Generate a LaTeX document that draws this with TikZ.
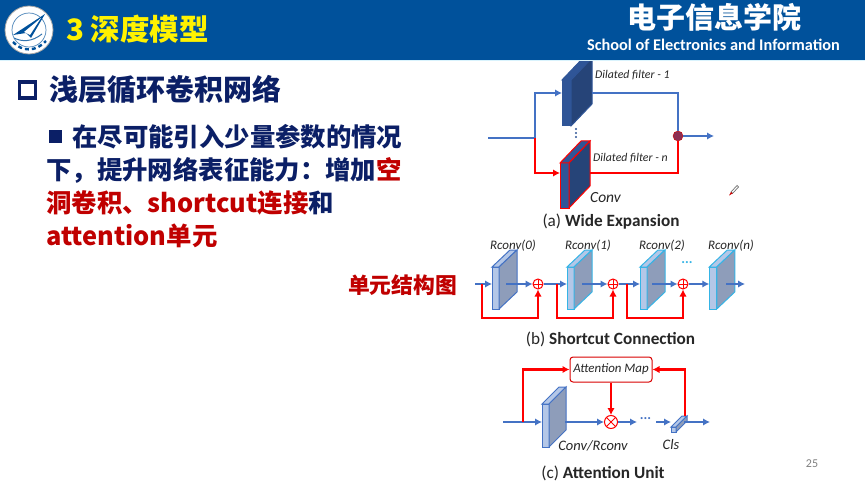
\documentclass[tikz,border=0pt]{standalone}
\usepackage{fontspec}
\usepackage{xcolor}
\usetikzlibrary{arrows.meta, positioning, calc}
\setmainfont{Carlito}
\newfontfamily\cjk{Noto Sans CJK SC}
\definecolor{headblue}{HTML}{00519B}
\definecolor{navy}{HTML}{0B1F66}
\definecolor{lineblue}{HTML}{4472C4}
\definecolor{darkfront}{HTML}{2F5597}
\definecolor{darkside}{HTML}{264478}
\definecolor{palefront}{HTML}{B4C7E7}
\definecolor{paleside}{HTML}{8E9DBA}
\definecolor{skyedge}{HTML}{35B4E6}
\definecolor{txtred}{HTML}{C00000}
\tikzset{
    blueline/.style={draw=lineblue, line width=2.2pt},
    redline/.style={draw=red, line width=2.2pt},
    bluearrow/.style={blueline, -{Latex[length=7pt, width=7.5pt]}},
    redarrow/.style={redline, -{Latex[length=7pt, width=7.5pt]}},
    smalllabel/.style={inner sep=0pt, font=\itshape\fontsize{11.8}{14}\selectfont, text=black!85},
    caption/.style={inner sep=0pt, font=\fontsize{17.2}{19}\selectfont, text=black!85},
    bodytext/.style={inner sep=0pt, anchor=west, text=navy, font=\cjk\bfseries\fontsize{25.4}{30}\selectfont},
    sumnode/.style={circle, draw=red, fill=white, line width=1pt, inner sep=0pt, minimum size=10pt,
        path picture={\draw[red, line width=1pt] (path picture bounding box.north) -- (path picture bounding box.south)
            (path picture bounding box.east) -- (path picture bounding box.west);}},
    mulnode/.style={circle, draw=red, fill=white, line width=1pt, inner sep=0pt, minimum size=13pt,
        path picture={\draw[red, line width=1pt] (path picture bounding box.north west) -- (path picture bounding box.south east)
            (path picture bounding box.north east) -- (path picture bounding box.south west);}},
}
% name, x, y, width, height, offset, edge, front, side
\newcommand{\filterblock}[9]{%
    \node[draw=#7, fill=#8, line width=1pt, inner sep=0pt, outer sep=0pt, minimum width=#4pt, minimum height=#5pt] (#1) at (#2,#3) {};
    \draw[draw=#7, fill=#8, line width=1pt] (#1.north west) -- ++#6 -- ++(#4,0) -- (#1.north east) -- cycle;
    \draw[draw=#7, fill=#9, line width=1pt] (#1.north east) -- ++#6 -- ++(0,#5) -- (#1.south east) -- cycle;}
\begin{document}
\begin{tikzpicture}[x=1pt, y=-1pt]
    \useasboundingbox (0,0) rectangle (865,484);
    \fill[white] (0,0) rectangle (865,484);

    % (a) wide expansion
    \filterblock{dil1}{566.5}{103}{9}{46}{(21,-22)}{darkfront}{darkfront}{darkside}
    \filterblock{diln}{564.5}{185.5}{9}{45}{(21,-22)}{red}{darkfront}{darkside}
    \coordinate (ain) at (488,138);
    \coordinate (asplit) at (535,138);
    \coordinate (dil1out) at (592,93);
    \coordinate (dilnout) at (590,173);
    \node[circle, draw=red!80!black, fill=red!45!darkfront, inner sep=0pt, minimum size=10pt] (amerge) at (678,136) {};
    \coordinate (aout) at (714,136);
    \draw[blueline] (ain) -- (asplit);
    \draw[bluearrow] (asplit) |- (dil1.west |- dil1out);
    \draw[redarrow] (asplit) |- (diln.west |- dilnout);
    \draw[blueline] (dil1out) -| (amerge);
    \draw[redline] (dilnout) -| (amerge);
    \draw[bluearrow] (amerge) -- (aout);
    \foreach \y in {129,133,137}
        \fill[darkfront] (576,\y) circle (1.1pt);
    \node[smalllabel, anchor=west] (dil1text) at (595,75) {Dilated filter - 1};
    \node[smalllabel, anchor=west] (dilntext) at (593,158) {Dilated filter - n};
    \node[inner sep=0pt, anchor=west, font=\itshape\fontsize{15.5}{17}\selectfont, text=black!85] (convtext) at (590,198) {Conv};
    \node[caption] (acap) at (611,222) {(a) \textbf{Wide Expansion}};
    % pen cursor
    \draw[black!55, line width=0.7pt] (731,192) -- (737,185.5) -- (738.5,187) -- (732.5,193.5) -- cycle;
    \fill[red!80!black] (731,192) -- (732.5,193.5) -- (729,195.5) -- cycle;

    % (b) shortcut connection
    \filterblock{rc0}{495.5}{288}{7}{42}{(18,-17)}{lineblue}{palefront}{paleside}
    \filterblock{rc1}{570.5}{288}{7}{42}{(18,-17)}{skyedge}{palefront}{paleside}
    \filterblock{rc2}{643.5}{288}{7}{42}{(18,-17)}{skyedge}{palefront}{paleside}
    \filterblock{rc3}{713}{288}{7.5}{42}{(18,-17)}{skyedge}{palefront}{paleside}
    \node[sumnode] (s0) at (538,284) {};
    \node[sumnode] (s1) at (613,284) {};
    \node[sumnode] (s2) at (683,284) {};
    \coordinate (bin) at (475,284);
    \coordinate (t0) at (482,284);
    \coordinate (t1) at (557,284);
    \coordinate (t2) at (627,284);
    \coordinate (o0) at (506,284);
    \coordinate (o1) at (582,284);
    \coordinate (o2) at (652,284);
    \coordinate (o3) at (726,284);
    \coordinate (bout) at (745,284);
    \draw[bluearrow] (bin) -- (rc0.west |- bin);
    \draw[bluearrow] (o0) -- (s0);
    \draw[bluearrow] (s0) -- (rc1.west |- s0);
    \draw[bluearrow] (o1) -- (s1);
    \draw[bluearrow] (s1) -- (rc2.west |- s1);
    \draw[bluearrow] (o2) -- (s2);
    \draw[bluearrow] (s2) -- (rc3.west |- s2);
    \draw[bluearrow] (o3) -- (bout);
    \draw[redarrow] (t0) -- ++(0,34) -| (s0);
    \draw[redarrow] (t1) -- ++(0,34) -| (s1);
    \draw[redarrow] (t2) -- ++(0,34) -| (s2);
    \node[smalllabel, font=\itshape\fontsize{13}{15}\selectfont] (r0) at (513,246) {Rconv(0)};
    \node[smalllabel, font=\itshape\fontsize{13}{15}\selectfont] (r1) at (588,246) {Rconv(1)};
    \node[smalllabel, font=\itshape\fontsize{13}{15}\selectfont] (r2) at (662,246) {Rconv(2)};
    \node[smalllabel, font=\itshape\fontsize{13}{15}\selectfont] (r3) at (731,246) {Rconv(n)};
    \node[inner sep=0pt, text=skyedge, font=\bfseries\fontsize{14}{15}\selectfont] (bdots) at (687,263) {...};
    \node[caption] (bcap) at (610.5,339) {(b) \textbf{Shortcut Connection}};

    % (c) attention unit
    \filterblock{conv}{545.5}{425.5}{7}{43}{(17,-17)}{lineblue}{palefront}{paleside}
    \node[draw=red!85!black, rounded corners=3pt, line width=1pt, fill=white, minimum width=82pt, minimum height=25pt, inner sep=0pt,
        font=\itshape\fontsize{12.9}{15}\selectfont, text=black!85] (amap) at (611,369.5) {Attention Map};
    \node[mulnode] (mul) at (611,422) {};
    \coordinate (cin) at (503,422);
    \coordinate (ctap) at (523,422);
    \coordinate (cconvout) at (565,422);
    \coordinate (cdotsl) at (637,422);
    \coordinate (cdotsr) at (656,422);
    \coordinate (cout) at (710,422);
    \node[inner sep=0pt, text=lineblue, font=\bfseries\fontsize{14}{15}\selectfont] (cdots) at (645.5,419) {...};
    \filterblock{cls}{673.5}{429.5}{5}{5}{(11,-11)}{lineblue}{palefront}{paleside}
    \coordinate (clsout) at (684,422);
    \coordinate (clstap) at (685,416);
    \draw[bluearrow] (cin) -- (conv.west |- cin);
    \draw[bluearrow] (cconvout) -- (mul);
    \draw[bluearrow] (mul) -- (cdotsl);
    \draw[bluearrow] (cdotsr) -- (cls.west |- cdotsr);
    \draw[bluearrow] (clsout) -- (cout);
    \draw[redarrow] (ctap) |- (amap.west);
    \draw[redarrow] (amap.south) -- (mul);
    \draw[redarrow] (clstap) |- (amap.east);
    \node[inner sep=0pt, font=\itshape\fontsize{14.5}{16}\selectfont, text=black!85] (convlab) at (593,446) {Conv/Rconv};
    \node[inner sep=0pt, font=\itshape\fontsize{14.5}{16}\selectfont, text=black!85] (clslab) at (671,445) {Cls};
    \node[caption] (ccap) at (603,473) {(c) \textbf{Attention Unit}};

    % header bar
    \fill[headblue] (0,0) rectangle (865,60);
    \fill[cyan!15] (0,60) rectangle (865,61);
    \fill[white] (29,30) circle (24);
    \draw[black!35, line width=0.8pt] (29,30) circle (24);
    \draw[headblue!70, line width=0.7pt] (29,30) circle (17);
    \fill[headblue] (13,35) -- (45,14) -- (31,38) -- (26,33) -- cycle;
    \fill[white] (24,32) -- (41,18) -- (30,35) -- cycle;
    \draw[headblue!80, line width=1pt] (14,38) .. controls (22,42) and (32,42) .. (42,34);
    \draw[headblue, line width=2.4pt, dash pattern=on 4pt off 3pt] (13,42) .. controls (22,52) and (36,52) .. (46,41);
    \node[inner sep=0pt, anchor=west, text=yellow, font=\cjk\bfseries\fontsize{29.5}{32}\selectfont] (title) at (66,29) {3 深度模型};
    \node[inner sep=0pt, text=white, font=\cjk\bfseries\fontsize{29}{32}\selectfont] (school) at (714.5,17) {电子信息学院};
    \node[inner sep=0pt, text=white, font=\bfseries\fontsize{16.3}{18}\selectfont] (schoolen) at (713.5,45) {School of Electronics and Information};

    % left text
    \node[draw=navy, line width=3.5pt, inner sep=0pt, minimum size=16pt] (bullet1) at (27.5,90) {};
    \node[bodytext, font=\cjk\bfseries\fontsize{29}{32}\selectfont] (head) at (49,90) {浅层循环卷积网络};
    \node[fill=navy, inner sep=0pt, minimum size=13pt] (bullet2) at (55.5,136.5) {};
    \node[bodytext] (line1) at (72,137) {在尽可能引入少量参数的情况};
    \node[bodytext] (line2) at (46,170) {下，提升网络表征能力：增加\textcolor{txtred}{空}};
    \node[bodytext] (line3) at (46,203) {\textcolor{txtred}{洞卷积、shortcut连接}和};
    \node[bodytext, text=txtred] (line4) at (46,236) {attention单元};
    \node[inner sep=0pt, text=txtred, font=\cjk\bfseries\fontsize{21.8}{26}\selectfont] (unit) at (402.5,285) {单元结构图};
    \node[inner sep=0pt, text=black!50, font=\fontsize{12}{14}\selectfont] (page) at (812,464) {25};
\end{tikzpicture}
\end{document}
